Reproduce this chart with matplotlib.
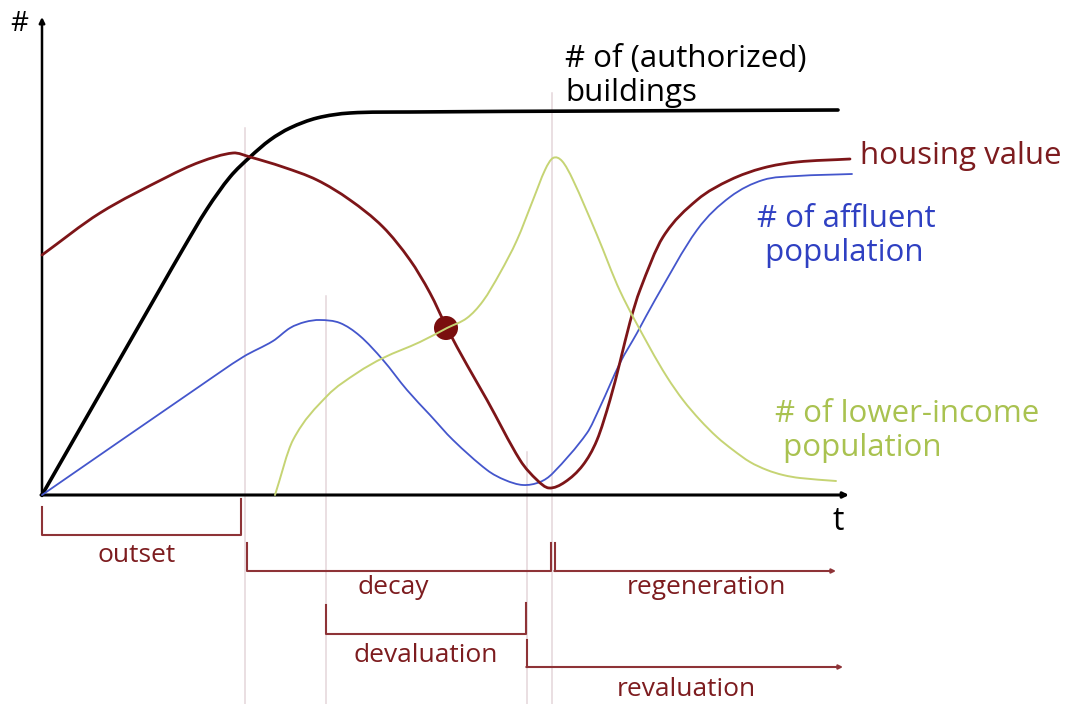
import matplotlib
matplotlib.use("Agg")
import matplotlib.pyplot as plt
from matplotlib.path import Path
from matplotlib.patches import PathPatch

plt.rcParams['font.family'] = ['Open Sans', 'DejaVu Sans']

# Origin of the diagram in figure pixels: (42, 495); data units = pixels from origin
OX, OY = 42, 495

# ---- curves (x px, y px) ----
bld_x = [42, 160, 183, 207, 230, 250, 270, 290, 317, 350, 410, 600, 838]
bld_y = [495, 289, 249, 209, 177, 157, 140, 128, 118, 113, 112, 111, 110]

hv_x = [42, 100, 167, 200, 233, 250, 283, 317, 350, 383, 410, 430, 447, 467, 487, 520, 537, 549,
        565, 583, 597, 610, 620, 630, 640, 663, 697, 730, 763, 797, 850]
hv_y = [255, 213, 177, 162, 153, 157, 167, 180, 200, 227, 260, 293, 328, 365, 400, 460, 480, 488,
        482, 465, 440, 400, 362, 322, 290, 237, 200, 180, 168, 162, 159]

aff_x = [42, 200, 243, 273, 290, 305, 320, 340, 360, 383, 407, 430, 453, 487, 505, 523, 540, 553,
         587, 600, 620, 637, 655, 697, 730, 763, 797, 852]
aff_y = [495, 386, 357, 341, 328, 322, 320, 323, 336, 360, 390, 415, 440, 470, 480, 485, 482, 473,
         433, 407, 363, 333, 300, 230, 197, 180, 176, 174]

low_x = [275, 293, 327, 357, 383, 420, 447, 467, 483, 500, 517, 533, 545, 553, 562, 573, 597,
         620, 650, 667, 683, 700, 717, 733, 750, 767, 783, 800, 836]
low_y = [495, 440, 396, 373, 358, 342, 328, 318, 301, 273, 240, 200, 170, 158, 161, 180, 235,
         291, 348, 377, 400, 420, 437, 450, 462, 470, 475, 478, 481]

# intersection marker
dot_x, dot_y = 446, 328

# ---- phases (brackets) ----
phase_names = ["outset", "decay", "devaluation", "regeneration", "revaluation"]
guide_lines_x = [245, 326, 527, 552]
guide_lines_top = [128, 296, 452, 93]

def X(px):
    return px - OX

def Y(py):
    return OY - py

W, H = 1073, 704
fig = plt.figure(figsize=(W / 100, H / 100), dpi=100)
ax = fig.add_axes([0, 0, 1, 1])
ax.set_xlim(X(0), X(W))
ax.set_ylim(Y(H), Y(0))
ax.axis('off')

RED = '#7d1518'
BLUE = '#4456cc'
GREEN = '#c6d474'
BR = '#8e3337'
GUIDE = '#e4d6da'


def smooth_curve(xs, ys, color, lw, z):
    """Draw a smooth curve through the read points (cubic Hermite segments as Bezier curves)."""
    px = [X(a) for a in xs]
    py = [Y(b) for b in ys]
    n = len(px)
    slopes = []
    for i in range(n):
        if i == 0:
            s = (py[1] - py[0]) / (px[1] - px[0])
        elif i == n - 1:
            s = (py[-1] - py[-2]) / (px[-1] - px[-2])
        else:
            s = (py[i + 1] - py[i - 1]) / (px[i + 1] - px[i - 1])
        slopes.append(s)
    verts = [(px[0], py[0])]
    codes = [Path.MOVETO]
    for i in range(n - 1):
        h = px[i + 1] - px[i]
        c1 = (px[i] + h / 3.0, py[i] + slopes[i] * h / 3.0)
        c2 = (px[i + 1] - h / 3.0, py[i + 1] - slopes[i + 1] * h / 3.0)
        verts += [c1, c2, (px[i + 1], py[i + 1])]
        codes += [Path.CURVE4] * 3
    patch = PathPatch(Path(verts, codes), facecolor='none', edgecolor=color, lw=lw, zorder=z,
                      capstyle='round', joinstyle='round')
    ax.add_patch(patch)


# guide lines
for gx, gt in zip(guide_lines_x, guide_lines_top):
    ax.plot([X(gx), X(gx)], [Y(gt), Y(704)], color=GUIDE, lw=1.1, zorder=1)

# axes arrows
ax.annotate('', xy=(X(42), Y(17)), xytext=(X(42), Y(496)),
            arrowprops=dict(arrowstyle='-|>', color='black', lw=1.8, mutation_scale=8, shrinkA=0, shrinkB=0))
ax.annotate('', xy=(X(849), Y(495)), xytext=(X(41), Y(495)),
            arrowprops=dict(arrowstyle='-|>', color='black', lw=2.2, mutation_scale=8, shrinkA=0, shrinkB=0))
ax.text(X(19), Y(24), '#', fontsize=20, ha='center', va='center', color='black')
ax.text(X(838), Y(521), 't', fontsize=23, ha='center', va='center', color='black')

# curves
smooth_curve(bld_x, bld_y, 'black', 2.6, 3)
smooth_curve(aff_x, aff_y, BLUE, 1.3, 3)
smooth_curve(hv_x, hv_y, RED, 2.0, 4)
ax.scatter([X(dot_x)], [Y(dot_y)], s=300, color='#7a0e0e', zorder=5, edgecolors='none')
smooth_curve(low_x, low_y, GREEN, 1.4, 6)

# series labels
ax.text(X(565), Y(76), '# of (authorized)\nbuildings', fontsize=22.5, color='black', ha='left', va='center',
        linespacing=1.15)
ax.text(X(860), Y(156), 'housing value', fontsize=22.5, color='#7d1c1f', ha='left', va='center')
ax.text(X(757), Y(236), '# of affluent\n population', fontsize=22.5, color='#2f40c2', ha='left', va='center',
        linespacing=1.15)
ax.text(X(775), Y(431), '# of lower-income\n population', fontsize=22.5, color='#a9c250', ha='left', va='center',
        linespacing=1.15)

# brackets
def bracket(x0, x1, ytop0, ytop1, ybot):
    ax.plot([X(x0), X(x0), X(x1), X(x1)], [Y(ytop0), Y(ybot), Y(ybot), Y(ytop1)], color=BR, lw=1.5, zorder=2)

def arrow_bracket(x0, x1, ytop, ybot):
    ax.plot([X(x0), X(x0)], [Y(ytop), Y(ybot)], color=BR, lw=1.5, zorder=2)
    ax.annotate('', xy=(X(x1), Y(ybot)), xytext=(X(x0) - 0.7, Y(ybot)),
                arrowprops=dict(arrowstyle='-|>', color=BR, lw=1.5, mutation_scale=6, shrinkA=0, shrinkB=0))

LBL = 19
bracket(42, 241, 507, 499, 535)
ax.text(X(137), Y(555), phase_names[0], fontsize=LBL, color='#7d1c1f', ha='center', va='center')

bracket(247, 551, 543, 543, 571)
ax.text(X(393), Y(587), phase_names[1], fontsize=LBL, color='#7d1c1f', ha='center', va='center')

bracket(326, 526, 605, 603, 634)
ax.text(X(426), Y(656), phase_names[2], fontsize=LBL, color='#7d1c1f', ha='center', va='center')

arrow_bracket(555, 836, 543, 571)
ax.text(X(706), Y(588), phase_names[3], fontsize=LBL, color='#7d1c1f', ha='center', va='center')

arrow_bracket(527, 843, 640, 667)
ax.text(X(686), Y(690), phase_names[4], fontsize=LBL, color='#7d1c1f', ha='center', va='center')

fig.savefig('out.png', dpi=100, facecolor='white')
